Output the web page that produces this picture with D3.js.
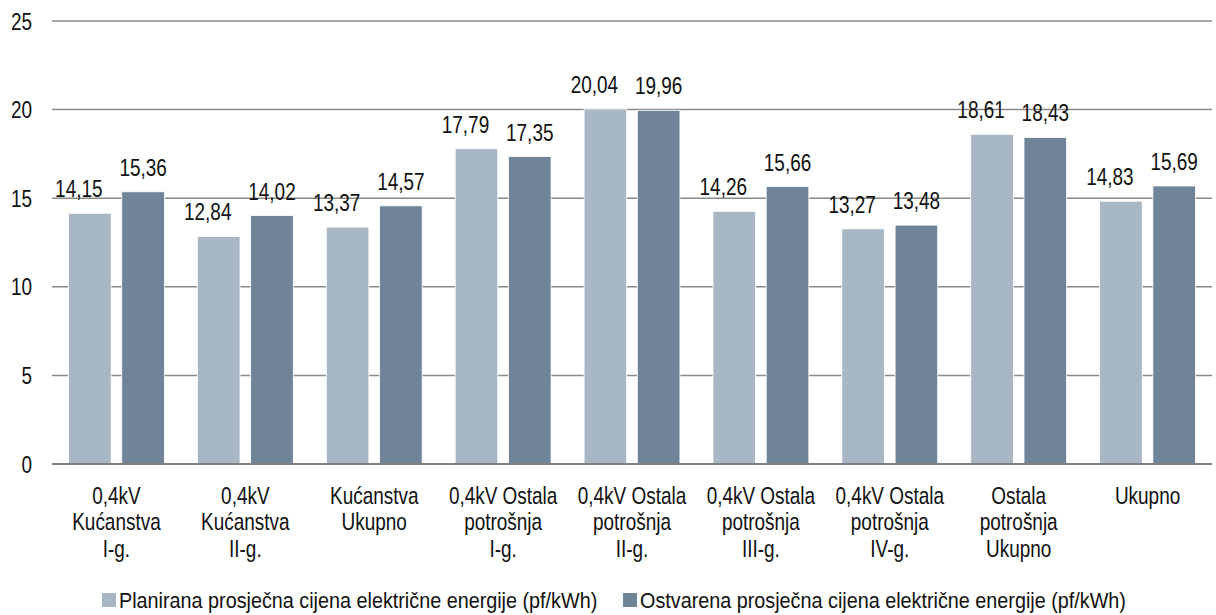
<!DOCTYPE html>
<html>
<head>
<meta charset="utf-8">
<script src="https://cdn.jsdelivr.net/npm/d3@7"></script>
<style>
  body { margin: 0; background: #fff; }
  svg text { font-family: "Liberation Sans Narrow", "Arial Narrow", "Liberation Sans", Arial, sans-serif; fill: #111; }
</style>
</head>
<body>
<div class="chart"></div>
<script>
// chart data
var categories = [
  ["0,4kV", "Kućanstva", "I-g."],
  ["0,4kV", "Kućanstva", "II-g."],
  ["Kućanstva", "Ukupno"],
  ["0,4kV Ostala", "potrošnja", "I-g."],
  ["0,4kV Ostala", "potrošnja", "II-g."],
  ["0,4kV Ostala", "potrošnja", "III-g."],
  ["0,4kV Ostala", "potrošnja", "IV-g."],
  ["Ostala", "potrošnja", "Ukupno"],
  ["Ukupno"]
];
var planirana = [14.15, 12.84, 13.37, 17.79, 20.04, 14.26, 13.27, 18.61, 14.83];
var ostvarena = [15.36, 14.02, 14.57, 17.35, 19.96, 15.66, 13.48, 18.43, 15.69];
var seriesNames = [
  "Planirana prosječna cijena električne energije (pf/kWh)",
  "Ostvarena prosječna cijena električne energije (pf/kWh)"
];
var yTicks = [0, 5, 10, 15, 20, 25];

var width = 1216, height = 615;
var mLeft = 52, mRight = 1212, mTop = 21, mBottom = 464;
var colors = ["#a9b7c4", "#6f8498"];
var fontSize = 24;
var squeeze = 0.79;   // no narrow font installed, so squeeze the regular one

var svg = d3.select(".chart")
  .append("svg")
  .attr("width", width)
  .attr("height", height);

var y = d3.scaleLinear().domain([0, 25]).range([mBottom, mTop]);

var x0 = d3.scaleBand()
  .domain(d3.range(categories.length))
  .range([mLeft, mRight])
  .paddingInner(0)
  .paddingOuter(0);

var x1 = d3.scaleBand()
  .domain([0, 1])
  .range([0, x0.bandwidth()])
  .paddingInner(0.2)
  .paddingOuter(0.31);

function place(x, y, s) {
  return "translate(" + x + "," + y + ") scale(" + (s || squeeze) + ",1)";
}

// gridlines
svg.append("g")
  .selectAll("line")
  .data(yTicks.filter(function (d) { return d > 0; }))
  .enter()
  .append("line")
  .attr("x1", mLeft)
  .attr("x2", mRight)
  .attr("y1", function (d) { return y(d); })
  .attr("y2", function (d) { return y(d); })
  .style("stroke", "#8a8a8a")
  .style("stroke-width", 1.5);

// y axis labels
svg.append("g")
  .selectAll("text")
  .data(yTicks)
  .enter()
  .append("text")
  .attr("transform", function (d) { return place(32, y(d) + 8.5); })
  .attr("text-anchor", "end")
  .style("font-size", fontSize + "px")
  .text(function (d) { return d; });

var rows = categories.map(function (c, i) {
  return { i: i, vals: [planirana[i], ostvarena[i]] };
});

var groups = svg.append("g")
  .selectAll("g")
  .data(rows)
  .enter()
  .append("g")
  .attr("transform", function (d) { return "translate(" + x0(d.i) + ",0)"; });

groups.selectAll("rect")
  .data(function (d) { return d.vals.map(function (v, k) { return { k: k, v: v }; }); })
  .enter()
  .append("rect")
  .attr("x", function (d) { return x1(d.k); })
  .attr("width", x1.bandwidth())
  .attr("y", function (d) { return y(d.v); })
  .attr("height", function (d) { return mBottom - y(d.v); })
  .style("fill", function (d) { return colors[d.k]; })
  .style("stroke", "#fff")
  .style("stroke-width", 0.8);

// value labels (light series labels sit a bit left, like in the original)
groups.selectAll("text.val")
  .data(function (d) { return d.vals.map(function (v, k) { return { k: k, v: v }; }); })
  .enter()
  .append("text")
  .attr("class", "val")
  .attr("transform", function (d) {
    return place(x1(d.k) + x1.bandwidth() / 2 + (d.k === 0 ? -11 : 0), y(d.v) - 16);
  })
  .attr("text-anchor", "middle")
  .style("font-size", fontSize + "px")
  .text(function (d) { return d3.format(".2f")(d.v).replace(".", ","); });

// baseline
svg.append("line")
  .attr("x1", mLeft)
  .attr("x2", mRight)
  .attr("y1", y(0))
  .attr("y2", y(0))
  .style("stroke", "#808080")
  .style("stroke-width", 2);

// category labels
var cat = svg.append("g")
  .selectAll("text")
  .data(categories)
  .enter()
  .append("text")
  .attr("transform", function (d, i) { return place(x0(i) + x0.bandwidth() / 2, 504); })
  .attr("text-anchor", "middle")
  .style("font-size", fontSize + "px");

cat.selectAll("tspan")
  .data(function (d) { return d; })
  .enter()
  .append("tspan")
  .attr("x", 0)
  .attr("dy", function (d, j) { return j === 0 ? 0 : 26.5; })
  .text(function (d) { return d; });

// legend
var legendX = [102, 623];
var leg = svg.append("g")
  .selectAll("g")
  .data(seriesNames)
  .enter()
  .append("g")
  .attr("transform", function (d, i) { return "translate(" + legendX[i] + ",593)"; });

leg.append("rect")
  .attr("width", 14)
  .attr("height", 14)
  .style("fill", function (d, i) { return colors[i]; });

leg.append("text")
  .attr("transform", place(17, 14.5, 0.9))
  .style("font-size", "22px")
  .text(function (d) { return d; });
</script>
</body>
</html>
